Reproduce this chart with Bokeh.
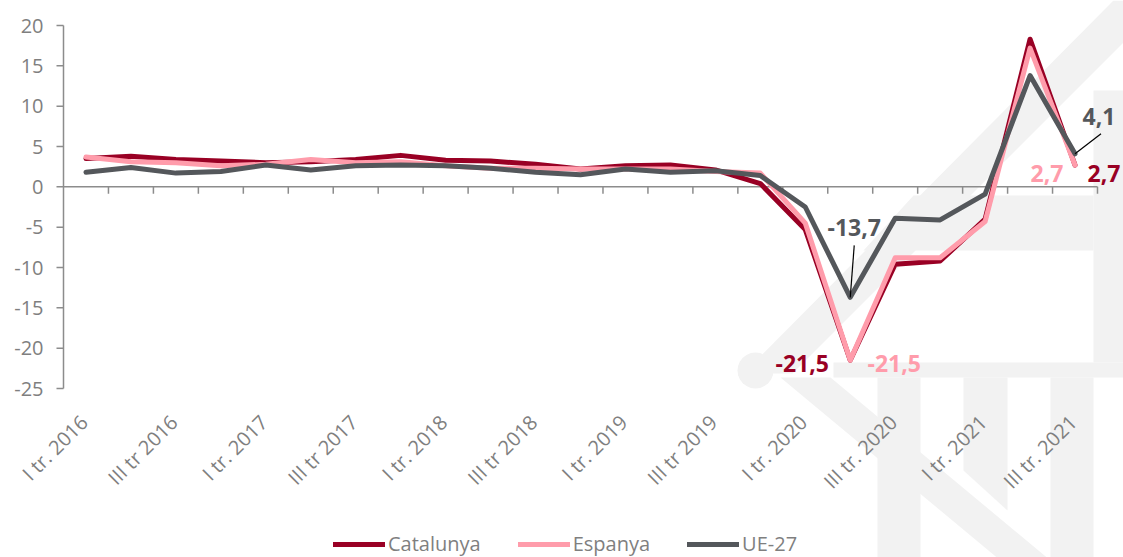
import math
from bokeh.plotting import figure
from bokeh.models import Legend, LegendItem, PolyAnnotation, Range1d, Label
from bokeh.embed import file_html
from bokeh.resources import INLINE

# ---------------- data ----------------
quarters = ["I tr. 2016", "II tr. 2016", "III tr 2016", "IV tr. 2016",
            "I tr. 2017", "II tr. 2017", "III tr 2017", "IV tr. 2017",
            "I tr. 2018", "II tr. 2018", "III tr 2018", "IV tr. 2018",
            "I tr. 2019", "II tr. 2019", "III tr 2019", "IV tr. 2019",
            "I tr. 2020", "II tr. 2020", "III tr. 2020", "IV tr. 2020",
            "I tr. 2021", "II tr. 2021", "III tr. 2021"]
catalunya = [3.5, 3.8, 3.4, 3.2, 3.0, 3.1, 3.4, 3.9, 3.3, 3.2, 2.8, 2.2,
             2.6, 2.7, 2.1, 0.4, -5.3, -21.5, -9.6, -9.2, -4.0, 18.3, 2.7]
espanya = [3.7, 3.1, 3.0, 2.6, 2.8, 3.4, 3.0, 3.1, 2.6, 2.3, 2.3, 2.2,
           2.2, 2.2, 1.9, 1.7, -4.5, -21.5, -8.8, -8.8, -4.3, 17.2, 2.7]
ue27 = [1.8, 2.4, 1.7, 1.9, 2.7, 2.1, 2.6, 2.7, 2.6, 2.3, 1.8, 1.5,
        2.2, 1.8, 2.0, 1.4, -2.5, -13.7, -3.9, -4.1, -0.9, 13.8, 4.1]
series_names = ["Catalunya", "Espanya", "UE-27"]
y_ticks = [-25, -20, -15, -10, -5, 0, 5, 10, 15, 20]
y_tick_labels = [str(v) for v in y_ticks]

C_CAT = "#990024"
C_ESP = "#FF9CAB"
C_UE = "#54575B"
AXIS = "#8C8C8C"
TXT = "#7F7F7F"
FONT = "Open Sans"
WM = "#F2F2F2"

n = len(quarters)
xs = list(range(n))

# layout (page pixels)
W, H = 1123, 557
AX_L, AX_R, AX_T, AX_B = 63, 1097, 25, 388      # plotting area of the original chart
px_x = (AX_R - AX_L) / n
px_y = (AX_B - AX_T) / (y_ticks[-1] - y_ticks[0])

x_start = -0.5 - AX_L / px_x
x_end = -0.5 + (W - AX_L) / px_x
y_end = y_ticks[-1] + AX_T / px_y
y_start = y_ticks[-1] - (H - AX_T) / px_y

p = figure(width=W, height=H, output_backend="svg", toolbar_location=None,
           x_range=Range1d(x_start, x_end), y_range=Range1d(y_start, y_end),
           x_axis_location=None, y_axis_location=None,
           min_border_left=0, min_border_right=0, min_border_top=0,
           min_border_bottom=0)
p.xgrid.visible = False
p.ygrid.visible = False
p.outline_line_color = None
p.background_fill_color = None
p.border_fill_color = "white"

# ---------------- watermark (decorative, canvas px) ----------------
def poly(pts):
    return PolyAnnotation(xs=[a for a, b in pts], ys=[b for a, b in pts],
                          xs_units="canvas", ys_units="canvas",
                          fill_color=WM, fill_alpha=1, line_color=None, level="underlay")

shapes = [
    [(1113, 0), (1165, 0), (792, 373), (743, 373)],          # diagonal band up
    [(780, 377), (830, 377), (1050, 560), (1000, 560)],      # diagonal band down
    [(913, 195), (1093, 195), (1093, 250), (863, 250)],      # horizontal block
    [(833, 362), (1123, 362), (1123, 377), (833, 377)],      # horizontal bar
    [(877, 377), (920, 377), (920, 560), (877, 560)],        # vertical bars
    [(963, 377), (1007, 377), (1007, 510), (963, 470)],
    [(1050, 377), (1093, 377), (1093, 560), (1050, 560)],
    [(1093, 90), (1125, 90), (1125, 362), (1093, 362)],
]
for s in shapes:
    p.add_layout(poly(s))
circ = [(755 + 18 * math.cos(t / 24 * 2 * math.pi), 370 + 18 * math.sin(t / 24 * 2 * math.pi))
        for t in range(24)]
p.add_layout(poly(circ))

# ---------------- y axis (drawn) ----------------
tick_len_x = 7 / px_x
p.segment(x0=[-0.5], y0=[y_ticks[0]], x1=[-0.5], y1=[y_ticks[-1]],
          line_color=AXIS, line_width=1.5)
p.segment(x0=[-0.5] * len(y_ticks), y0=y_ticks, x1=[-0.5 - tick_len_x] * len(y_ticks),
          y1=y_ticks, line_color=AXIS, line_width=1.5)
p.text(x=[-0.5 - 20 / px_x] * len(y_ticks), y=y_ticks, text=y_tick_labels,
       text_align="right", text_baseline="middle",
       text_font={"value": FONT}, text_font_size={"value": "20px"}, text_color=TXT)

# ---------------- x axis (drawn at y = 0) ----------------
p.segment(x0=[-0.5], y0=[0], x1=[n - 0.5], y1=[0], line_color=AXIS, line_width=1.5)
bounds = [i + 0.5 for i in xs]
p.segment(x0=bounds, y0=[0] * n, x1=bounds, y1=[-7 / px_y] * n,
          line_color=AXIS, line_width=1.5)
lab_idx = xs[::2]
p.text(x=[i - 2 / px_x for i in lab_idx], y=[y_ticks[0] - 30 / px_y] * len(lab_idx),
       text=[quarters[i] for i in lab_idx], angle=math.pi / 4,
       text_align="right", text_baseline="middle",
       text_font={"value": FONT}, text_font_size={"value": "20px"}, text_color=TXT)

# ---------------- lines ----------------
r_cat = p.line(xs, catalunya, line_color=C_CAT, line_width=5, line_join="round", line_cap="round")
r_esp = p.line(xs, espanya, line_color=C_ESP, line_width=5, line_join="round", line_cap="round")
r_ue = p.line(xs, ue27, line_color=C_UE, line_width=5, line_join="round", line_cap="round")

# ---------------- annotations ----------------
def fmt(v):
    return f"{v:.1f}".replace(".", ",")

i_min = catalunya.index(min(catalunya))
i_last = n - 1
ann = [
    (i_min, ue27[i_min], 4, 70, C_UE),
    (i_last, ue27[i_last], 24, 37, C_UE),
    (i_min, catalunya[i_min], -48, -3, C_CAT),
    (i_min, espanya[i_min], 44, -3, C_ESP),
    (i_last, espanya[i_last], -28, -8, C_ESP),
    (i_last, catalunya[i_last], 29, -8, C_CAT),
]
for x, y, dx, dy, col in ann:
    p.add_layout(Label(x=x, y=y, x_offset=dx, y_offset=dy, text=fmt(y),
                       text_font=FONT, text_font_style="bold", text_font_size="23px",
                       text_color=col, text_align="center", text_baseline="middle"))

# leader lines
p.segment(x0=[i_min, i_last], y0=[ue27[i_min], ue27[i_last]],
          x1=[i_min + 4 / px_x, i_last + 26 / px_x],
          y1=[ue27[i_min] + 52 / px_y, ue27[i_last] + 20 / px_y],
          line_color="black", line_width=1.2)

# ---------------- legend ----------------
legend = Legend(items=[LegendItem(label=series_names[0], renderers=[r_cat]),
                       LegendItem(label=series_names[1], renderers=[r_esp]),
                       LegendItem(label=series_names[2], renderers=[r_ue])],
                orientation="horizontal", location=(333, 0),
                glyph_width=52, glyph_height=20, label_standoff=3, spacing=37,
                label_text_font=FONT, label_text_font_size="20px",
                label_text_color=TXT, border_line_color=None,
                background_fill_alpha=0, padding=0, margin=0)
p.add_layout(legend, "center")

open("out.html", "w").write(file_html(p, INLINE))
